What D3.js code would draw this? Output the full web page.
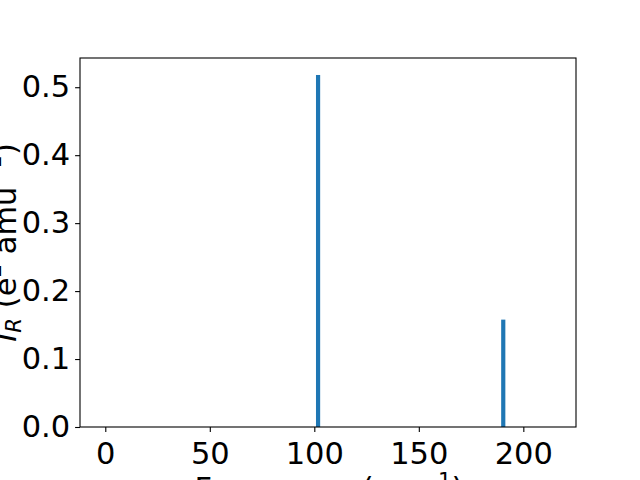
<!DOCTYPE html>
<html><head><meta charset="utf-8">
<script src="https://cdn.jsdelivr.net/npm/d3@7"></script>
<style>body{margin:0;background:#fff}svg{display:block}text{font-family:"DejaVu Sans",sans-serif;fill:#000}</style>
</head><body>
<script>
const frequencies = [101.8, 190.4];
const intensities = [0.518, 0.158];
const barWidth = 2.0;
const xTicks = [0, 50, 100, 150, 200];
const yTicks = [0.0, 0.1, 0.2, 0.3, 0.4, 0.5];
const xDomain = [-12.1, 225.2];
const yDomain = [0, 0.543];

const W = 640, H = 480;
const m = {left: 80, right: 576, top: 58, bottom: 427};
const svg = d3.select("body").append("svg").attr("width", W).attr("height", H);
const x = d3.scaleLinear().domain(xDomain).range([m.left, m.right]);
const y = d3.scaleLinear().domain(yDomain).range([m.bottom, m.top]);

svg.append("g").selectAll("rect").data(frequencies).join("rect")
  .attr("x", (d) => x(d - barWidth / 2))
  .attr("width", (d) => x(d + barWidth / 2) - x(d - barWidth / 2))
  .attr("y", (d, i) => y(intensities[i]))
  .attr("height", (d, i) => y(0) - y(intensities[i]))
  .attr("fill", "#1f77b4");

const fs = 30.5;
const xAxis = svg.append("g").attr("transform", `translate(0,${m.bottom})`)
  .call(d3.axisBottom(x).tickValues(xTicks).tickFormat(d3.format("d")).tickSize(4.9).tickPadding(10));
const yAxis = svg.append("g").attr("transform", `translate(${m.left},0)`)
  .call(d3.axisLeft(y).tickValues(yTicks).tickFormat(d3.format(".1f")).tickSize(4.9).tickPadding(4.9));
[xAxis, yAxis].forEach(g => {
  g.select(".domain").remove();
  g.selectAll("line").attr("stroke", "#000").attr("stroke-width", 1.1);
  g.selectAll("text").style("font-family", "DejaVu Sans").style("font-size", fs + "px").attr("fill", "#000");
});

svg.append("rect").attr("x", m.left).attr("y", m.top)
  .attr("width", m.right - m.left).attr("height", m.bottom - m.top)
  .attr("fill", "none").attr("stroke", "#000").attr("stroke-width", 1.1);

// x label
const xl = svg.append("text").attr("x", (m.left + m.right) / 2 + 1).attr("y", 499)
  .attr("text-anchor", "middle").style("font-size", fs + "px");
xl.append("tspan").text("Frequency (cm");
xl.append("tspan").attr("dy", -11).style("font-size", (fs * 0.7) + "px").text("\u22121");
xl.append("tspan").attr("dy", 11).text(")");

// y label
const yl = svg.append("text").attr("transform", `translate(16,${(m.top + m.bottom) / 2}) rotate(-90)`)
  .attr("text-anchor", "middle").style("font-size", fs + "px");
yl.append("tspan").style("font-style", "italic").text("I");
yl.append("tspan").attr("dy", 5).style("font-style", "italic").style("font-size", (fs * 0.7) + "px").text("R");
yl.append("tspan").attr("dy", -5).text(" (e");
yl.append("tspan").attr("dy", -15).style("font-size", (fs * 0.7) + "px").text("2");
yl.append("tspan").attr("dy", 15).text(" amu");
yl.append("tspan").attr("dy", -15).style("font-size", (fs * 0.7) + "px").text("\u22121");
yl.append("tspan").attr("dy", 15).text(")");
</script>
</body></html>
